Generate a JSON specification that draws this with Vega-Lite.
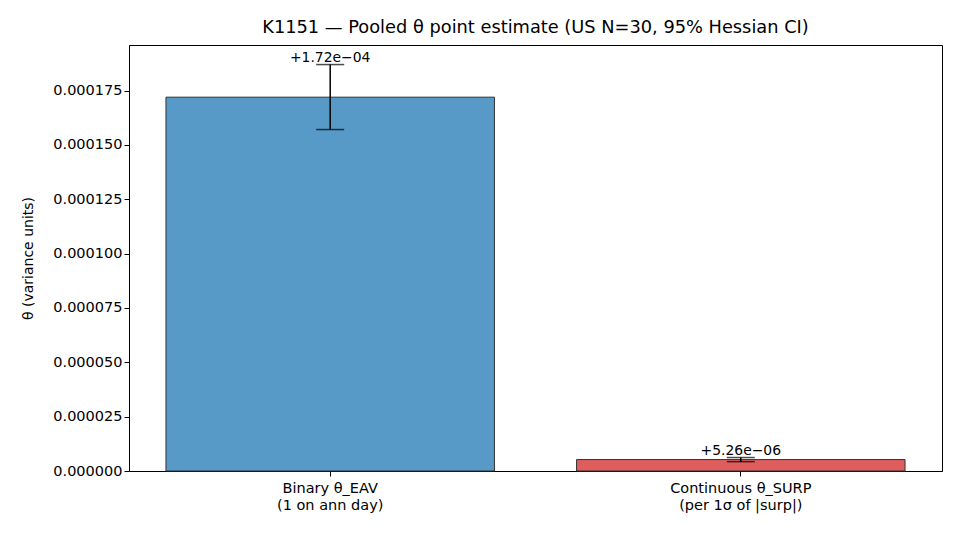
{
  "$schema": "https://vega.github.io/schema/vega-lite/v6.json",
  "width": 813,
  "height": 426,
  "autosize": {"type": "none"},
  "padding": {"left": 129, "top": 45, "right": 18, "bottom": 69},
  "background": "white",
  "config": {
    "font": "DejaVu Sans",
    "view": {"stroke": "black", "strokeWidth": 1},
    "axis": {"domainColor": "black", "tickColor": "black", "labelColor": "black", "titleColor": "black", "labelFontSize": 14.5, "titleFontSize": 14, "titleFontWeight": "normal", "grid": false, "tickSize": 5}
  },
  "title": {"text": "K1151 — Pooled θ point estimate (US N=30, 95% Hessian CI)", "fontSize": 17.8, "fontWeight": "normal", "color": "black", "offset": 8},
  "data": {"values": [
    {"cat": "Binary θ_EAV\n(1 on ann day)", "theta": 0.000172, "lo": 0.0001571, "hi": 0.000187, "label": "+1.72e−04"},
    {"cat": "Continuous θ_SURP\n(per 1σ of |surp|)", "theta": 0.00000526, "lo": 0.0000043, "hi": 0.0000062, "label": "+5.26e−06"}
  ]},
  "encoding": {
    "x": {"field": "cat", "type": "nominal", "sort": null,
      "scale": {"paddingInner": 0.2, "paddingOuter": 0.09},
      "axis": {"title": null, "labelAngle": 0, "labelExpr": "split(datum.label, '\\n')", "labelPadding": 5, "labelLineHeight": 17}}
  },
  "layer": [
    {"mark": {"type": "bar", "stroke": "#333333", "strokeWidth": 1},
      "encoding": {
        "y": {"field": "theta", "type": "quantitative", "scale": {"domain": [0, 0.000196], "nice": false},
          "axis": {"title": "θ (variance units)", "format": ".6f", "values": [0, 0.000025, 0.00005, 0.000075, 0.0001, 0.000125, 0.00015, 0.000175], "titlePadding": 17}},
        "color": {"field": "cat", "type": "nominal", "scale": {"range": ["#5799c7", "#e05d5e"]}, "legend": null}
      }},
    {"mark": {"type": "rule", "color": "black", "strokeWidth": 1.5},
      "encoding": {"y": {"field": "lo", "type": "quantitative"}, "y2": {"field": "hi"}}},
    {"mark": {"type": "tick", "color": "black", "thickness": 1.5, "size": 28, "orient": "horizontal"},
      "encoding": {"y": {"field": "lo", "type": "quantitative"}}},
    {"mark": {"type": "tick", "color": "black", "thickness": 1.5, "size": 28, "orient": "horizontal"},
      "encoding": {"y": {"field": "hi", "type": "quantitative"}}},
    {"mark": {"type": "text", "baseline": "bottom", "fontSize": 13.9, "dy": 0, "color": "black"},
      "encoding": {"y": {"field": "hi", "type": "quantitative"}, "text": {"field": "label"}}}
  ]
}
